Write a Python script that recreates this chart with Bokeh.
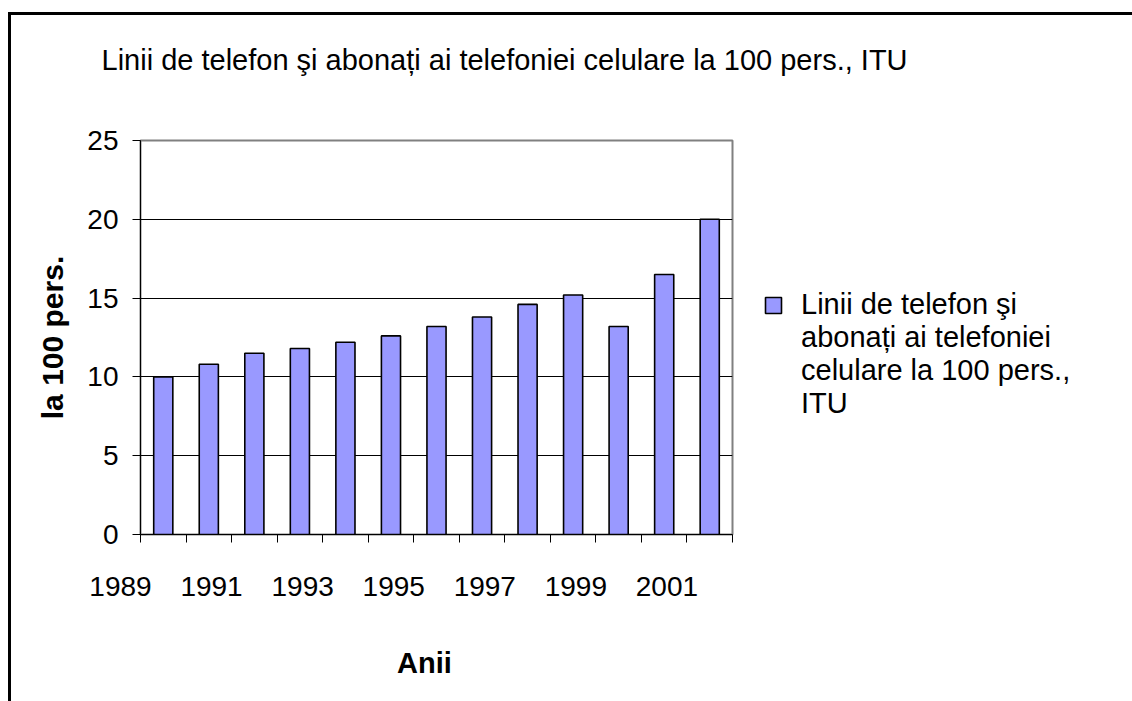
from bokeh.plotting import figure
from bokeh.models import (FixedTicker, LinearAxis, Legend, LegendItem, Range1d,
                          CustomJSTickFormatter)
from bokeh.embed import file_html
from bokeh.resources import INLINE

# ---- data ----
years = [1989, 1990, 1991, 1992, 1993, 1994, 1995, 1996, 1997, 1998, 1999, 2000, 2001]
values = [10.0, 10.8, 11.5, 11.8, 12.2, 12.6, 13.2, 13.8, 14.6, 15.2, 13.2, 16.5, 20.0]
label_years = [1989, 1991, 1993, 1995, 1997, 1999, 2001]
y_ticks = [0, 5, 10, 15, 20, 25]
title_text = "Linii de telefon şi abonați ai telefoniei celulare la 100 pers., ITU"
legend_lines = ["Linii de telefon şi", "abonați ai telefoniei",
                "celulare la 100 pers.,", "ITU"]
x_title = "Anii"
y_title = "la 100 pers."

FONT = "Liberation Sans"
NBSP = "\u00a0"
# in the original the year labels sit left of their bars; trailing no-break
# spaces shift the centred label text to the left
label_pad = NBSP * 11

boundaries = [years[0] - 0.5] + [y + 0.5 for y in years]

p = figure(frame_width=592, frame_height=394,
           x_range=Range1d(years[0] - 0.5, years[-1] + 0.5),
           y_range=Range1d(0, 25),
           output_backend="svg", toolbar_location=None,
           min_border_left=129, min_border_right=10,
           min_border_top=125, min_border_bottom=167)

p.styles = {"border-top": "3px solid black", "border-left": "3px solid black",
            "margin-top": "12px", "margin-left": "8px"}

p.background_fill_color = "white"
p.border_fill_color = "white"
p.outline_line_color = "#808080"
p.outline_line_width = 2

xa = p.below[0]
ya = p.left[0]

# title
p.title.text = title_text
p.title.align = "left"
p.title.offset = -39
p.title.standoff = 10
p.title.text_font = FONT
p.title.text_font_size = "29px"
p.title.text_font_style = "normal"
p.title.text_color = "black"

# bars
r = p.vbar(x=years, top=values, width=0.42, bottom=0,
           fill_color="#9999FF", line_color="black", line_width=1.6)
# invisible renderer used only to carry the continuation lines of the legend text
r_blank = p.vbar(x=[], top=[], width=0.42, fill_alpha=0, line_alpha=0)

# grids
p.xgrid.grid_line_color = None
p.ygrid.ticker = FixedTicker(ticks=y_ticks)
p.ygrid.grid_line_color = "black"
p.ygrid.grid_line_width = 1

# y axis
ya.ticker = FixedTicker(ticks=y_ticks)
ya.major_tick_out = 8
ya.major_tick_in = 0
ya.minor_tick_line_color = None
ya.major_tick_line_color = "black"
ya.axis_line_color = "black"
ya.major_label_text_font = FONT
ya.major_label_text_font_size = "28px"
ya.major_label_text_color = "black"
ya.major_label_standoff = 14
ya.axis_label = y_title
ya.axis_label_text_font = FONT
ya.axis_label_text_font_size = "30px"
ya.axis_label_text_font_style = "bold"
ya.axis_label_text_color = "black"
ya.axis_label_standoff = 15

# x axis: tick marks at category boundaries
xa.ticker = FixedTicker(ticks=boundaries)
xa.formatter = CustomJSTickFormatter(code="return ''")
xa.major_tick_out = 8
xa.major_tick_in = 0
xa.minor_tick_line_color = None
xa.major_tick_line_color = "black"
xa.axis_line_color = "black"
xa.major_label_standoff = 0
xa.major_label_text_font_size = "1px"

# x axis: year labels
xl = LinearAxis(ticker=FixedTicker(ticks=label_years),
                major_label_overrides={y: str(y) + label_pad for y in label_years},
                major_tick_line_color=None, minor_tick_line_color=None,
                axis_line_color=None,
                major_label_text_font=FONT, major_label_text_font_size="28px",
                major_label_text_color="black", major_label_standoff=22,
                axis_label=x_title + NBSP * 3, axis_label_text_font=FONT,
                axis_label_text_font_size="29px", axis_label_text_font_style="bold",
                axis_label_text_color="black", axis_label_standoff=42)
p.add_layout(xl, "below")

# invisible spacer axis between frame and title
spacer = LinearAxis(ticker=FixedTicker(ticks=[years[0]]),
                    formatter=CustomJSTickFormatter(code="return ''"),
                    major_tick_out=60, major_tick_in=0,
                    major_tick_line_color=None, minor_tick_line_color=None,
                    axis_line_color=None, major_label_standoff=0,
                    major_label_text_font_size="1px")
p.add_layout(spacer, "above")

# legend to the right of the frame
items = [LegendItem(label=legend_lines[0], renderers=[r])] + \
        [LegendItem(label=t, renderers=[r_blank]) for t in legend_lines[1:]]
legend = Legend(items=items,
                location=(31, 114), border_line_color=None,
                background_fill_alpha=0, glyph_width=20, glyph_height=20,
                label_standoff=18, padding=0, margin=0, spacing=0,
                label_text_font=FONT, label_text_font_size="29px",
                label_text_color="black")
p.add_layout(legend, "right")

open("out.html", "w").write(file_html(p, INLINE))
